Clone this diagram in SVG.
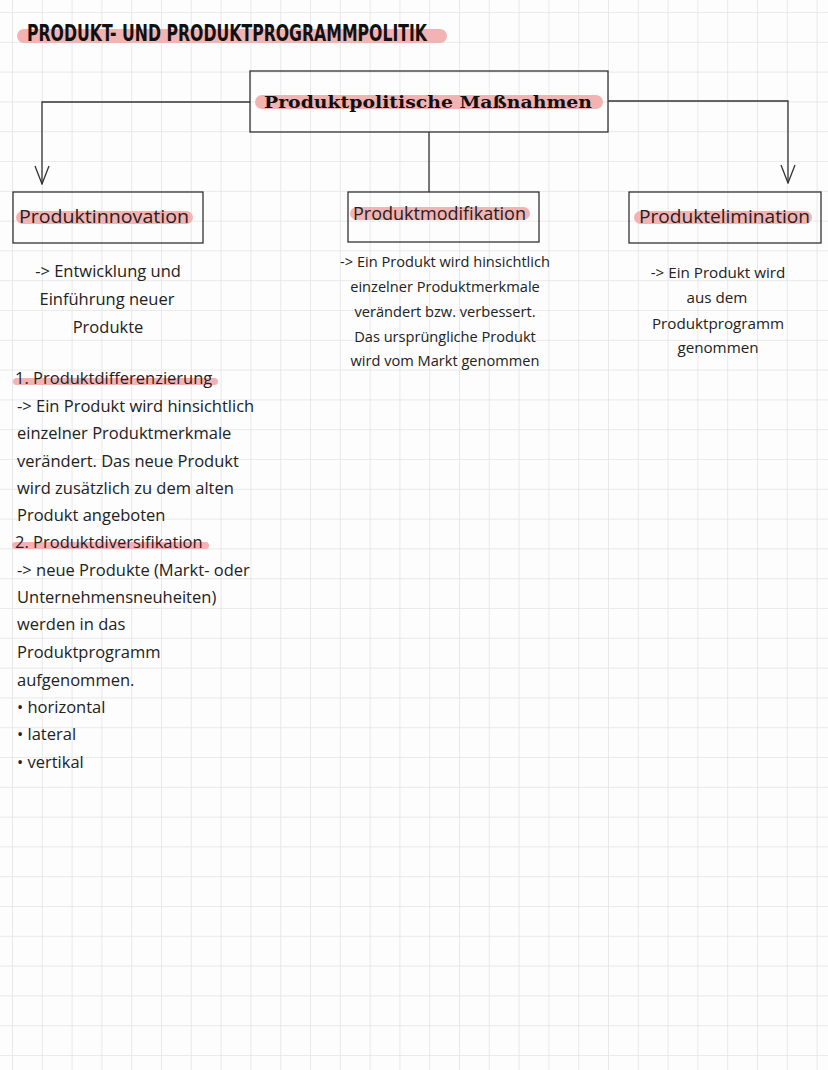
<svg xmlns="http://www.w3.org/2000/svg" width="828" height="1070" viewBox="0 0 828 1070">
<defs>
<pattern id="grid" x="12" y="12" width="29.8" height="29.8" patternUnits="userSpaceOnUse">
<path d="M0 0 H29.8 M0 0 V29.8" fill="none" stroke="#e4e4e4" stroke-width="1.6"/>
</pattern>
<marker id="chev" viewBox="0 0 16 20" refX="8" refY="19" markerWidth="16" markerHeight="20" markerUnits="userSpaceOnUse" orient="0">
<path d="M1 1 L8 19 L15 1" fill="none" stroke="#333" stroke-width="1.3"/>
</marker>
</defs>
<style>
.box{fill:none;stroke:#333;stroke-width:1.3}
.hl{fill:#f3b3b3}
.lbl{font-family:"Open Sans","Liberation Sans",sans-serif;font-size:18px;fill:#222}
.body{font-family:"Open Sans","Liberation Sans",sans-serif;font-size:16.5px;fill:#222}
.mid{font-family:"Open Sans","Liberation Sans",sans-serif;font-size:14.6px;fill:#222}
.right{font-family:"Open Sans","Liberation Sans",sans-serif;font-size:15.2px;fill:#222}
.conn{fill:none;stroke:#333;stroke-width:1.3}
</style>
<rect width="828" height="1070" fill="#fdfdfd"/>
<rect width="828" height="1070" fill="url(#grid)"/>

<g id="title">
<rect class="hl" x="17" y="29" width="430" height="14" rx="7" fill="#f5c2c2"/>
<text x="27" y="41" font-family="'DejaVu Sans Condensed','DejaVu Sans',sans-serif" font-weight="bold" font-size="23" textLength="400" lengthAdjust="spacingAndGlyphs" fill="#111">PRODUKT- UND PRODUKTPROGRAMMPOLITIK</text>
</g>

<g id="connectors">
<polyline class="conn" points="250,102 42,102 42,184" marker-end="url(#chev)"/>
<polyline class="conn" points="608,101 788,101 788,183" marker-end="url(#chev)"/>
<line class="conn" x1="429" y1="132" x2="429" y2="192"/>
</g>

<g id="node-massnahmen">
<rect class="box" x="250" y="71" width="358" height="61"/>
<rect class="hl" x="255" y="95" width="348" height="14" rx="7"/>
<text x="264" y="108" font-family="'DejaVu Serif',serif" font-weight="bold" font-size="17" textLength="328" lengthAdjust="spacingAndGlyphs" fill="#111">Produktpolitische Maßnahmen</text>
</g>

<g id="node-innovation">
<rect class="box" x="13" y="192" width="190" height="51"/>
<rect class="hl" x="16" y="211" width="177" height="13" rx="6.5"/>
<text class="lbl" x="19" y="223" textLength="170" lengthAdjust="spacingAndGlyphs">Produktinnovation</text>
</g>

<g id="node-modifikation">
<rect class="box" x="348" y="192" width="191" height="50"/>
<rect class="hl" x="350" y="207" width="180" height="13" rx="6.5"/>
<text class="lbl" x="353" y="220" textLength="173" lengthAdjust="spacingAndGlyphs">Produktmodifikation</text>
</g>

<g id="node-elimination">
<rect class="box" x="629" y="192" width="192" height="51"/>
<rect class="hl" x="634" y="211" width="178" height="13" rx="6.5"/>
<text class="lbl" x="639" y="223" textLength="171" lengthAdjust="spacingAndGlyphs">Produktelimination</text>
</g>

<g id="text-innovation" class="body" text-anchor="middle">
<text x="108" y="277">-&gt; Entwicklung und</text>
<text x="107" y="305">Einführung neuer</text>
<text x="108" y="333">Produkte</text>
</g>

<g id="text-left" class="body">
<rect class="hl" x="13" y="378" width="205" height="7" rx="3.5"/>
<text x="15" y="384">1. Produktdifferenzierung</text>
<text x="17" y="412">-&gt; Ein Produkt wird hinsichtlich</text>
<text x="17" y="439">einzelner Produktmerkmale</text>
<text x="17" y="467">verändert. Das neue Produkt</text>
<text x="17" y="494">wird zusätzlich zu dem alten</text>
<text x="17" y="521">Produkt angeboten</text>
<rect class="hl" x="12" y="542" width="197" height="7" rx="3.5"/>
<text x="15" y="548">2. Produktdiversifikation</text>
<text x="17" y="576">-&gt; neue Produkte (Markt- oder</text>
<text x="17" y="603">Unternehmensneuheiten)</text>
<text x="17" y="630">werden in das</text>
<text x="17" y="658">Produktprogramm</text>
<text x="17" y="686">aufgenommen.</text>
<text x="17" y="713">• horizontal</text>
<text x="17" y="740">• lateral</text>
<text x="17" y="768">• vertikal</text>
</g>

<g id="text-modifikation" class="mid" text-anchor="middle">
<text x="445" y="267">-&gt; Ein Produkt wird hinsichtlich</text>
<text x="445" y="292">einzelner Produktmerkmale</text>
<text x="445" y="317">verändert bzw. verbessert.</text>
<text x="445" y="342">Das ursprüngliche Produkt</text>
<text x="445" y="366">wird vom Markt genommen</text>
</g>

<g id="text-elimination" class="right" text-anchor="middle">
<text x="718" y="278">-&gt; Ein Produkt wird</text>
<text x="717" y="303">aus dem</text>
<text x="718" y="329">Produktprogramm</text>
<text x="718" y="353">genommen</text>
</g>
</svg>
